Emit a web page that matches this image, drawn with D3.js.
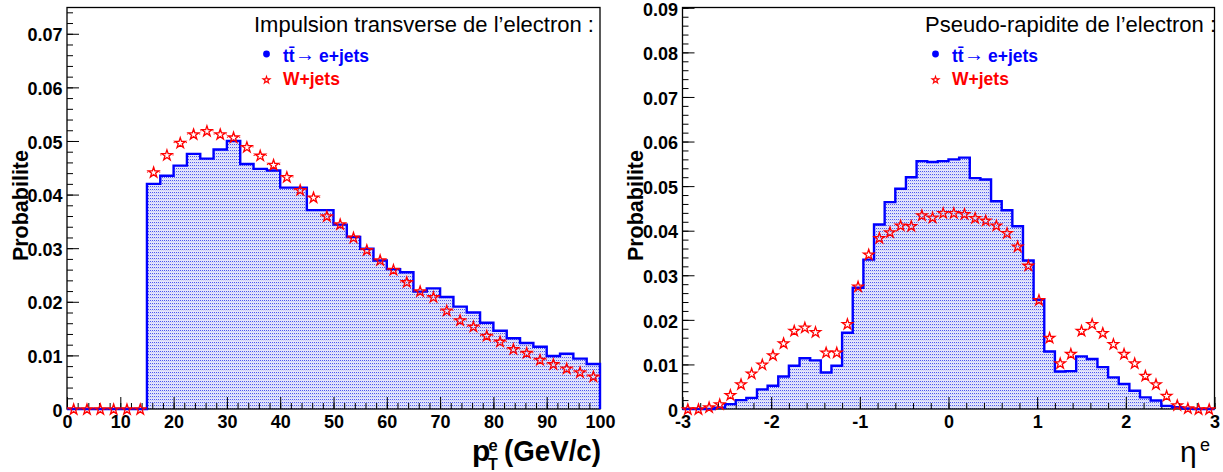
<!DOCTYPE html>
<html><head><meta charset="utf-8">
<script src="https://cdn.jsdelivr.net/npm/d3@7"></script>
<style>
html,body{margin:0;padding:0;background:#fff;}
text{font-family:"Liberation Sans",Arial,Helvetica,sans-serif;}
</style></head><body>
<svg id="c" width="1223" height="472" xmlns="http://www.w3.org/2000/svg"></svg>
<script>
// ---------------- DATA ----------------
const ptBinEdges = [0,2.5,5,7.5,10,12.5,15,17.5,20,22.5,25,27.5,30,32.5,35,37.5,40,42.5,45,47.5,50,
  52.5,55,57.5,60,62.5,65,67.5,70,72.5,75,77.5,80,82.5,85,87.5,90,92.5,95,97.5,100];
const ttbarPt = [0,0,0,0,0,0,0.0420,0.0435,0.0454,0.0476,0.0467,0.0484,0.0500,0.0457,0.0448,0.0445,
  0.0413,0.0413,0.0371,0.0371,0.0344,0.0321,0.0299,0.0277,0.0261,0.0255,0.0219,0.0225,0.0209,0.0191,
  0.0180,0.0161,0.0146,0.0132,0.0123,0.0116,0.0099,0.0103,0.0094,0.0084];
const wjetsPt = [0,0,0,0,0,0,0.0442,0.0474,0.0497,0.0513,0.0519,0.0513,0.0507,0.0489,0.0473,0.0456,
  0.0433,0.0409,0.0395,0.0360,0.0345,0.0320,0.0297,0.0278,0.0260,0.0237,0.0220,0.0209,0.0184,0.0166,
  0.0154,0.0137,0.0126,0.0112,0.0105,0.0092,0.0084,0.0076,0.0069,0.0061];

const etaBinEdges = [-3,-2.88,-2.76,-2.64,-2.52,-2.4,-2.28,-2.16,-2.04,-1.92,-1.8,-1.68,-1.56,-1.44,-1.32,
  -1.2,-1.08,-0.96,-0.84,-0.72,-0.6,-0.48,-0.36,-0.24,-0.12,0,0.12,0.24,0.36,0.48,0.6,0.72,0.84,0.96,
  1.08,1.2,1.32,1.44,1.56,1.68,1.8,1.92,2.04,2.16,2.28,2.4,2.52,2.64,2.76,2.88,3];
const ttbarEta = [0,0,0,0.0003,0.0011,0.0020,0.0025,0.0044,0.0052,0.0073,0.0097,0.0114,0.0109,0.0082,
  0.0097,0.0171,0.0272,0.0335,0.0414,0.0464,0.0494,0.0520,0.0556,0.0554,0.0556,
  0.0560,0.0564,0.0518,0.0515,0.0466,0.0446,0.0410,0.0333,0.0245,0.0129,0.0084,0.0085,0.0118,0.0112,
  0.0094,0.0071,0.0056,0.0041,0.0026,0.0019,0.0007,0.0004,0.0001,0,0];
const wjetsEta = [0,0,0.0004,0.0011,0.0032,0.0056,0.0080,0.0100,0.0121,0.0148,0.0176,0.0183,0.0173,0.0127,
  0.0127,0.0191,0.0275,0.0347,0.0384,0.0397,0.0412,0.0411,0.0435,0.0430,0.0440,
  0.0440,0.0438,0.0429,0.0423,0.0412,0.0395,0.0365,0.0322,0.0245,0.0160,0.0103,0.0124,0.0176,0.0191,
  0.0171,0.0146,0.0124,0.0103,0.0075,0.0056,0.0030,0.0009,0.0002,0,0];

const ptXTicks = [0,10,20,30,40,50,60,70,80,90,100];
const ptYTicks = [0,0.01,0.02,0.03,0.04,0.05,0.06,0.07];
const etaXTicks = [-3,-2,-1,0,1,2,3];
const etaYTicks = [0,0.01,0.02,0.03,0.04,0.05,0.06,0.07,0.08,0.09];

const ptTitle = "Impulsion transverse de l\u2019electron :";
const etaTitle = "Pseudo-rapidite de l\u2019electron :";
const yTitle = "Probabilite";
const legendSignal = ["t", "t\u0304", "\u2192", "e+jets"];
const legendBkg = "W+jets";

// ---------------- DRAW ----------------
const svg = d3.select("#c");
svg.append("rect").attr("width",1223).attr("height",472).attr("fill","#fff");
const defs = svg.append("defs");
const pat = defs.append("pattern").attr("id","dots").attr("patternUnits","userSpaceOnUse")
  .attr("width",2).attr("height",3);
pat.append("rect").attr("width",2).attr("height",3).attr("fill","#e3e5fb");
pat.append("rect").attr("width",1).attr("height",1).attr("fill","#4a55ee");
pat.append("rect").attr("x",1).attr("y",1).attr("width",1).attr("height",1).attr("fill","#c9cdf6");

const BLUE = "#0000ff", RED = "#ff0000";
const FONT = '"Liberation Sans",Arial,sans-serif';
const starSym = d3.symbol().type(d3.symbolStar);

function panel(cfg) {
  const g = svg.append("g");
  const x = d3.scaleLinear().domain(cfg.xDomain).range([cfg.left, cfg.right]);
  const y = d3.scaleLinear().domain([0, cfg.yMax]).range([cfg.bottom, cfg.top]);
  const n = cfg.hist.length;
  const clipId = "clip" + cfg.id;
  defs.append("clipPath").attr("id", clipId).append("rect")
    .attr("x", cfg.left).attr("y", cfg.top).attr("width", cfg.right - cfg.left).attr("height", cfg.bottom - cfg.top);

  const pts = cfg.hist.map((v,i) => [cfg.edges[i], v]);
  pts.push([cfg.edges[n], cfg.hist[n-1]]);
  const area = d3.area().x(d => x(d[0])).y0(y(0)).y1(d => y(d[1])).curve(d3.curveStepAfter);
  g.append("path").attr("d", area(pts)).attr("fill","url(#dots)").attr("clip-path", `url(#${clipId})`);

  // frame
  g.append("rect").attr("x", cfg.left).attr("y", cfg.top)
    .attr("width", cfg.right - cfg.left).attr("height", cfg.bottom - cfg.top)
    .attr("fill","none").attr("stroke","#000").attr("stroke-width",1.3);

  const styleAxis = a => { a.select(".domain").remove(); a.selectAll(".tick line").attr("stroke","#000").attr("stroke-width",1); };
  const xMinor = d3.range(cfg.xDomain[0], cfg.xDomain[1] + 1e-9, cfg.xMinorStep);
  const yMinor = d3.range(0, cfg.yMax + 1e-9, 0.002);
  g.append("g").attr("transform",`translate(0,${cfg.bottom})`)
    .call(d3.axisBottom(x).tickValues(xMinor).tickSize(-6).tickSizeOuter(0).tickFormat(""))
    .call(styleAxis);
  g.append("g").attr("transform",`translate(${cfg.left},0)`)
    .call(d3.axisLeft(y).tickValues(yMinor).tickSize(-6).tickSizeOuter(0).tickFormat(""))
    .call(styleAxis);
  const gx = g.append("g").attr("transform",`translate(0,${cfg.bottom})`)
    .call(d3.axisBottom(x).tickValues(cfg.xTicks).tickSize(-12).tickSizeOuter(0).tickPadding(6).tickFormat(d => String(d)))
    .call(styleAxis);
  gx.selectAll("text").attr("font-family",FONT).attr("font-size",18)
    .attr("font-weight","bold").attr("fill","#000");
  const gy = g.append("g").attr("transform",`translate(${cfg.left},0)`)
    .call(d3.axisLeft(y).tickValues(cfg.yTicks).tickSize(-12).tickSizeOuter(0).tickPadding(4.5)
      .tickFormat(d => d === 0 ? "0" : d3.format(".2f")(d)))
    .call(styleAxis);
  gy.selectAll("text").attr("font-family",FONT).attr("font-size",18)
    .attr("font-weight","bold").attr("fill","#000").attr("dy","0.4em");

  // outline
  const outline = [[cfg.edges[0], 0], ...pts, [cfg.edges[n], 0]];
  const line = d3.line().x(d => x(d[0])).y(d => y(d[1])).curve(d3.curveStepAfter);
  g.append("path").attr("d", line(outline)).attr("fill","none").attr("stroke", BLUE)
    .attr("stroke-width",2.4).attr("stroke-linejoin","miter");

  // W+jets markers with horizontal error bars (gap around marker)
  const gap = 5.5;
  const mk = g.append("g");
  cfg.points.forEach((v,i) => {
    const x0 = x(cfg.edges[i]), x1 = x(cfg.edges[i+1]);
    const cx = (x0 + x1) / 2, cy = y(v);
    if (cx - gap > x0) mk.append("line").attr("x1",x0).attr("x2",cx-gap).attr("y1",cy).attr("y2",cy)
      .attr("stroke",RED).attr("stroke-width",1);
    if (x1 > cx + gap) mk.append("line").attr("x1",cx+gap).attr("x2",x1).attr("y1",cy).attr("y2",cy)
      .attr("stroke",RED).attr("stroke-width",1);
    mk.append("path").attr("d", starSym.size(34)()).attr("transform",`translate(${cx},${cy+0.5})`)
      .attr("fill","none").attr("stroke",RED).attr("stroke-width",1.3);
  });

  // title (clipped at frame right edge)
  const tclip = "tclip" + cfg.id;
  defs.append("clipPath").attr("id", tclip).append("rect")
    .attr("x", cfg.left).attr("y", 0).attr("width", cfg.right - cfg.left + 0.5).attr("height", 100);
  g.append("text").attr("x", cfg.titleX).attr("y", 32).attr("font-size", 22).attr("fill","#000")
    .attr("clip-path", `url(#${tclip})`).text(cfg.title);

  // legend
  const lx = cfg.legendX;
  g.append("circle").attr("cx", lx - 16.5).attr("cy", 54).attr("r", 3.4).attr("fill", BLUE);
  const t1 = g.append("text").attr("x", lx).attr("y", 62).attr("fill", BLUE);
  t1.append("tspan").attr("font-weight","bold").attr("font-size",17.5).text(legendSignal[0] + legendSignal[1]);
  t1.append("tspan").attr("x", lx + 12).attr("y", 61).attr("font-size",20)
    .attr("textLength",20).attr("lengthAdjust","spacingAndGlyphs").text(legendSignal[2]);
  t1.append("tspan").attr("x", lx + 36).attr("y", 62).attr("font-weight","bold").attr("font-size",17.5).text(legendSignal[3]);
  g.append("path").attr("d", starSym.size(15)()).attr("transform",`translate(${lx-16.5},${80})`)
    .attr("fill","none").attr("stroke",RED).attr("stroke-width",1.1);
  g.append("text").attr("x", lx).attr("y", 84.5).attr("fill", RED).attr("font-weight","bold")
    .attr("font-size",17.5).text(legendBkg);

  // y title
  g.append("text").attr("transform",`translate(${cfg.yTitleX},150) rotate(-90)`).attr("text-anchor","end")
    .attr("font-weight","bold").attr("font-size",21.5).attr("fill","#000").text(yTitle);

  return {x, y, g};
}

const P1 = panel({id:1, left:67, right:600, top:7.5, bottom:409, xDomain:[0,100], yMax:0.0749,
  edges: ptBinEdges, hist: ttbarPt, points: wjetsPt, xTicks: ptXTicks, yTicks: ptYTicks, xMinorStep: 2,
  title: ptTitle, titleX: 254, legendX: 283, yTitleX: 27.5});
const P2 = panel({id:2, left:682.5, right:1214.5, top:7.5, bottom:409, xDomain:[-3,3], yMax:0.09007,
  edges: etaBinEdges, hist: ttbarEta, points: wjetsEta, xTicks: etaXTicks, yTicks: etaYTicks, xMinorStep: 0.2,
  title: etaTitle, titleX: 925, legendX: 952, yTitleX: 643});

// x-axis titles
P1.g.append("text").attr("x", 472).attr("y", 461).attr("font-weight","bold").attr("font-size",30).text("p");
P1.g.append("text").attr("x", 488.5).attr("y", 451).attr("font-weight","bold").attr("font-size",16.5).text("e");
P1.g.append("text").attr("x", 488).attr("y", 470).attr("font-weight","bold").attr("font-size",16).text("T");
P1.g.append("text").attr("x", 504).attr("y", 461).attr("font-weight","bold")
  .attr("font-size",30).attr("textLength",97).attr("lengthAdjust","spacingAndGlyphs").text("(GeV/c)");

P2.g.append("text").attr("x", 1180).attr("y", 462).attr("font-family",'"Liberation Serif","DejaVu Serif",serif')
  .attr("font-size",30).text("\u03b7");
P2.g.append("text").attr("x", 1200).attr("y", 451).attr("font-size",18).text("e");
</script>
</body></html>
